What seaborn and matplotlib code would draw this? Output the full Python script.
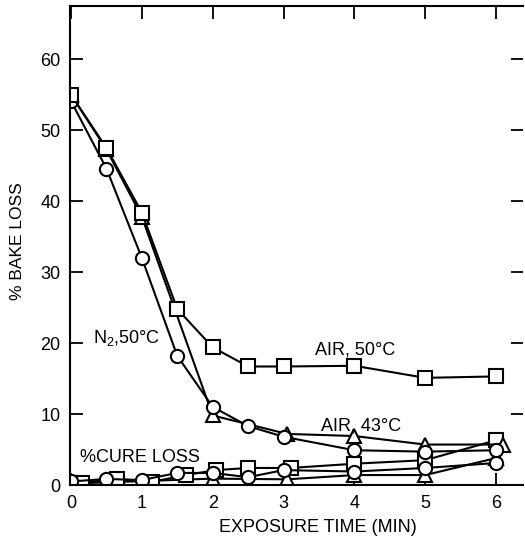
import matplotlib
matplotlib.use("Agg")
import matplotlib.pyplot as plt
import seaborn as sns
import pandas as pd

sns.set_style("ticks")
plt.rcParams['font.family'] = ['Liberation Sans', 'DejaVu Sans']
plt.rcParams['mathtext.fontset'] = 'custom'
plt.rcParams['mathtext.rm'] = 'Liberation Sans'
for k in ['text.color', 'axes.labelcolor', 'xtick.color', 'ytick.color', 'axes.edgecolor']:
    plt.rcParams[k] = 'black'

# ---- data ----
# % bake loss
air50_x = [0, 0.5, 1, 1.5, 2, 2.5, 3, 4, 5, 6]
air50_y = [55.0, 47.5, 38.4, 24.8, 19.4, 16.7, 16.7, 16.8, 15.1, 15.3]

n2_x = [0, 0.5, 1, 1.5, 2, 2.5, 3, 4, 5, 6]
n2_y = [54.1, 44.6, 32.0, 18.2, 11.0, 8.3, 6.8, 4.9, 4.7, 4.9]

air43_x = [0, 0.5, 1, 2, 3.05, 4, 5, 6.1]
air43_y = [55.0, 47.3, 37.8, 9.8, 7.2, 6.9, 5.7, 5.7]

# % cure loss
cure_circ_x = [0, 0.5, 1, 1.5, 2, 2.5, 3, 4, 5, 6]
cure_circ_y = [0.5, 0.85, 0.7, 1.7, 1.7, 1.1, 2.1, 1.9, 2.4, 3.1]

cure_sq_x = [0.15, 0.65, 1.15, 1.62, 2.05, 2.5, 3.1, 4, 5, 6]
cure_sq_y = [0.3, 0.85, 0.45, 1.4, 2.1, 2.4, 2.4, 3.0, 3.5, 6.3]

cure_tri_x = [0, 2, 3.05, 4, 5, 6]
cure_tri_y = [0.2, 0.9, 0.8, 1.4, 1.4, 3.8]

x_ticks = [0, 1, 2, 3, 4, 5, 6]
y_ticks = [0, 10, 20, 30, 40, 50, 60]

fig = plt.figure(figsize=(5.25, 5.39), dpi=100)
ax = fig.add_axes([70/525, 1-485/539, 453/525, 479/539])

def draw(xs, ys, marker, ms):
    df = pd.DataFrame({"x": xs, "y": ys})
    sns.lineplot(data=df, x="x", y="y", ax=ax, color="black", sort=False,
                 estimator=None, linewidth=1.5, marker=marker, markersize=ms,
                 markerfacecolor="white", markeredgecolor="black",
                 markeredgewidth=1.5)

draw(cure_tri_x, cure_tri_y, "^", 9.5)
draw(cure_sq_x, cure_sq_y, "s", 9.5)
draw(cure_circ_x, cure_circ_y, "o", 9.5)
draw(air43_x, air43_y, "^", 9.5)
draw(n2_x, n2_y, "o", 9.5)
draw(air50_x, air50_y, "s", 9.5)

ax.set_xlim(-0.014, 6.38)
ax.set_ylim(0, 67.5)
ax.set_xticks(x_ticks)
ax.set_yticks(y_ticks)
ax.set_xticklabels([str(v) for v in x_ticks])
ax.set_yticklabels([str(v) for v in y_ticks])
ax.tick_params(direction="in", length=9, width=1.3, labelsize=13, pad=7,
               top=True, right=True, color="black", labelcolor="black")
for s in ["left", "bottom", "top"]:
    ax.spines[s].set_linewidth(1.5)
    ax.spines[s].set_color("black")
ax.spines["right"].set_visible(False)

ax.set_xlabel("EXPOSURE TIME (MIN)", fontsize=13, color="black")
ax.set_ylabel("% BAKE LOSS", fontsize=12.5, color="black")
ax.xaxis.set_label_coords(0.547, -0.07)
ax.yaxis.set_label_coords(-0.10, 0.51)

ax.text(0.31, 20.7, r"N$_2$,50°C", fontsize=13, ha="left", va="center", color="black")
ax.text(3.44, 19.0, "AIR, 50°C", fontsize=13, ha="left", va="center", color="black")
ax.text(3.53, 8.3, "AIR, 43°C", fontsize=13, ha="left", va="center", color="black")
ax.text(0.13, 3.9, "%CURE LOSS", fontsize=13, ha="left", va="center", color="black")

fig.savefig("out.png", dpi=100)
